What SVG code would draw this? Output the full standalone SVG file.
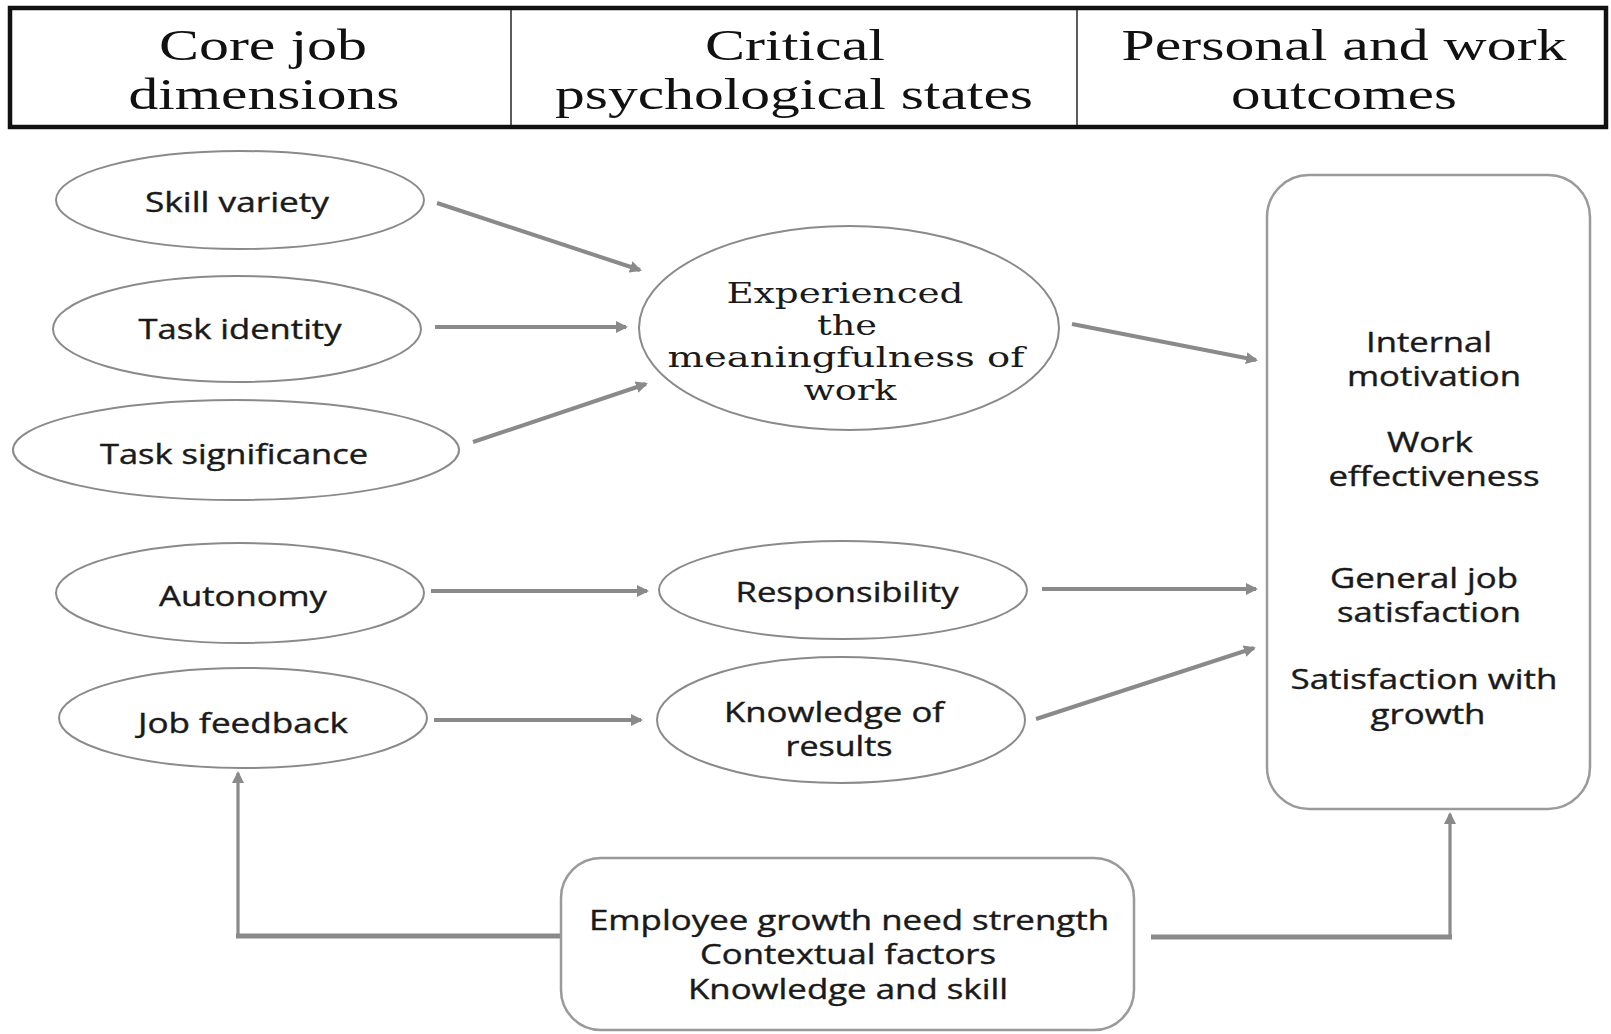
<svg xmlns="http://www.w3.org/2000/svg" width="1611" height="1034" viewBox="0 0 1611 1034">
  <style>
    .bg { fill: #ffffff; }
    .hdr { fill: none; stroke: #111111; stroke-width: 4.5; }
    .div { stroke: #333333; stroke-width: 1.6; }
    .hdrtxt { font-family: "Liberation Serif", "Times New Roman", serif; font-size: 44px; fill: #111111; text-anchor: middle; }
    .oval { fill: #ffffff; stroke: #8a8a8a; stroke-width: 2; }
    .box { fill: #ffffff; stroke: #9a9a9a; stroke-width: 2.5; }
    .lbl { font-family: "Open Sans", "Liberation Sans", sans-serif; font-size: 27px; fill: #1a1a1a; stroke: #1a1a1a; stroke-width: 0.4; text-anchor: middle; }
    .slab { font-family: "DejaVu Serif", "Liberation Serif", serif; font-size: 28px; fill: #1a1a1a; text-anchor: middle; }
    .arrow { fill: none; stroke: #8a8a8a; stroke-width: 4; marker-end: url(#ah); }
    .thin { fill: none; stroke: #8a8a8a; stroke-width: 3.2; marker-end: url(#ah); }
    .bar { fill: none; stroke: #8a8a8a; stroke-width: 5; }
  </style>
  <defs>
    <marker id="ah" markerWidth="12" markerHeight="12" refX="10" refY="6" orient="auto" markerUnits="userSpaceOnUse">
      <path d="M0,0 L12,6 L0,12 Z" fill="#8a8a8a"/>
    </marker>
  </defs>

  <rect class="bg" x="0" y="0" width="1611" height="1034"/>

  <!-- column header table -->
  <g id="header">
    <rect class="hdr" x="10" y="8" width="1596" height="119"/>
    <line class="div" x1="511" y1="10" x2="511" y2="125"/>
    <line class="div" x1="1077" y1="10" x2="1077" y2="125"/>
    <text class="hdrtxt" x="263" y="60" textLength="208" lengthAdjust="spacingAndGlyphs">Core job</text>
    <text class="hdrtxt" x="264" y="109" textLength="271" lengthAdjust="spacingAndGlyphs">dimensions</text>
    <text class="hdrtxt" x="795" y="60" textLength="180" lengthAdjust="spacingAndGlyphs">Critical</text>
    <text class="hdrtxt" x="794" y="109" textLength="478" lengthAdjust="spacingAndGlyphs">psychological states</text>
    <text class="hdrtxt" x="1344" y="60" textLength="445" lengthAdjust="spacingAndGlyphs">Personal and work</text>
    <text class="hdrtxt" x="1344" y="109" textLength="226" lengthAdjust="spacingAndGlyphs">outcomes</text>
  </g>

  <!-- connectors -->
  <g id="connectors">
    <path class="arrow" d="M437,203 L640,270"/>
    <path class="arrow" d="M435,327 L626,327"/>
    <path class="arrow" d="M473,442 L646,384"/>
    <path class="arrow" d="M1072,324 L1256,360"/>
    <path class="arrow" d="M431,591 L647,591"/>
    <path class="arrow" d="M1042,589 L1256,589"/>
    <path class="arrow" d="M434,720 L641,720"/>
    <path class="arrow" d="M1036,719 L1254,648"/>
    <path class="bar" d="M561,936 H236"/>
    <path class="thin" d="M238,938 V773"/>
    <path class="bar" d="M1151,937 H1452"/>
    <path class="thin" d="M1450,939 V814"/>
  </g>

  <!-- core job dimensions -->
  <g id="skill-variety">
    <ellipse class="oval" cx="240" cy="200" rx="184" ry="49"/>
    <text class="lbl" x="237" y="212" textLength="184" lengthAdjust="spacingAndGlyphs">Skill variety</text>
  </g>
  <g id="task-identity">
    <ellipse class="oval" cx="237" cy="329" rx="184" ry="53"/>
    <text class="lbl" x="240" y="339" textLength="203" lengthAdjust="spacingAndGlyphs">Task identity</text>
  </g>
  <g id="task-significance">
    <ellipse class="oval" cx="236" cy="450" rx="223" ry="50"/>
    <text class="lbl" x="234" y="464" textLength="268" lengthAdjust="spacingAndGlyphs">Task significance</text>
  </g>
  <g id="autonomy">
    <ellipse class="oval" cx="240" cy="593" rx="184" ry="50"/>
    <text class="lbl" x="243" y="606" textLength="168" lengthAdjust="spacingAndGlyphs">Autonomy</text>
  </g>
  <g id="job-feedback">
    <ellipse class="oval" cx="243" cy="718" rx="184" ry="50"/>
    <text class="lbl" x="243" y="733" textLength="210" lengthAdjust="spacingAndGlyphs">Job feedback</text>
  </g>

  <!-- critical psychological states -->
  <g id="meaningfulness">
    <ellipse class="oval" cx="849" cy="328" rx="210" ry="102"/>
    <text class="slab" x="845" y="303" textLength="237" lengthAdjust="spacingAndGlyphs">Experienced</text>
    <text class="slab" x="847" y="335" textLength="60" lengthAdjust="spacingAndGlyphs">the</text>
    <text class="slab" x="846" y="367" textLength="357" lengthAdjust="spacingAndGlyphs">meaningfulness of</text>
    <text class="slab" x="850" y="400" textLength="93" lengthAdjust="spacingAndGlyphs">work</text>
  </g>
  <g id="responsibility">
    <ellipse class="oval" cx="843" cy="590" rx="184" ry="49"/>
    <text class="lbl" x="847" y="602" textLength="223" lengthAdjust="spacingAndGlyphs">Responsibility</text>
  </g>
  <g id="knowledge-of-results">
    <ellipse class="oval" cx="841" cy="720" rx="184" ry="63"/>
    <text class="lbl" x="834" y="722" textLength="220" lengthAdjust="spacingAndGlyphs">Knowledge of</text>
    <text class="lbl" x="839" y="756" textLength="107" lengthAdjust="spacingAndGlyphs">results</text>
  </g>

  <!-- personal and work outcomes -->
  <g id="outcomes">
    <rect class="box" x="1267" y="175" width="323" height="634" rx="42" ry="42"/>
    <text class="lbl" x="1429" y="352" textLength="126" lengthAdjust="spacingAndGlyphs">Internal</text>
    <text class="lbl" x="1434" y="386" textLength="174" lengthAdjust="spacingAndGlyphs">motivation</text>
    <text class="lbl" x="1430" y="452" textLength="86" lengthAdjust="spacingAndGlyphs">Work</text>
    <text class="lbl" x="1434" y="486" textLength="211" lengthAdjust="spacingAndGlyphs">effectiveness</text>
    <text class="lbl" x="1424" y="588" textLength="188" lengthAdjust="spacingAndGlyphs">General job</text>
    <text class="lbl" x="1429" y="622" textLength="184" lengthAdjust="spacingAndGlyphs">satisfaction</text>
    <text class="lbl" x="1424" y="689" textLength="267" lengthAdjust="spacingAndGlyphs">Satisfaction with</text>
    <text class="lbl" x="1428" y="724" textLength="115" lengthAdjust="spacingAndGlyphs">growth</text>
  </g>

  <!-- moderators -->
  <g id="moderators">
    <rect class="box" x="561" y="858" width="573" height="172" rx="40" ry="40"/>
    <text class="lbl" x="849" y="930" textLength="520" lengthAdjust="spacingAndGlyphs">Employee growth need strength</text>
    <text class="lbl" x="848" y="964" textLength="296" lengthAdjust="spacingAndGlyphs">Contextual factors</text>
    <text class="lbl" x="848" y="999" textLength="320" lengthAdjust="spacingAndGlyphs">Knowledge and skill</text>
  </g>
</svg>
